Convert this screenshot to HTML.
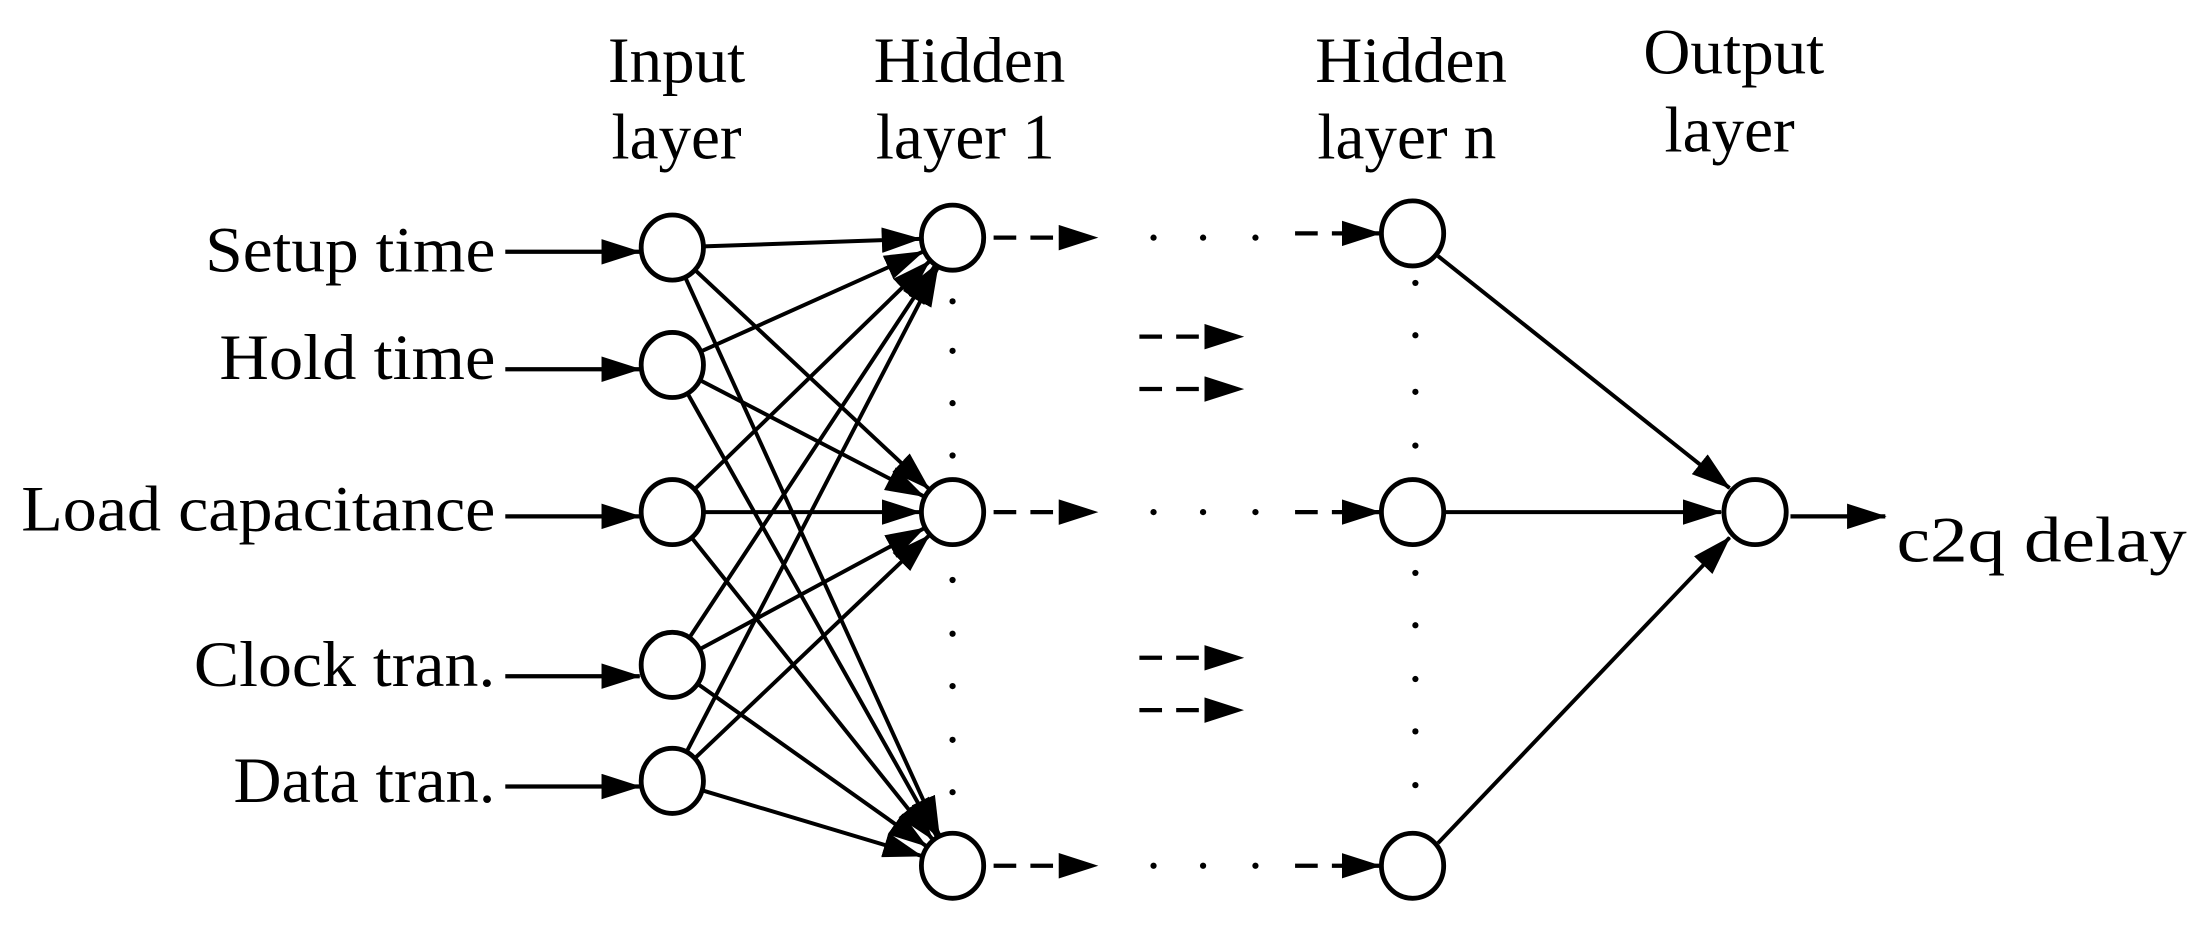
<!DOCTYPE html>
<html><head><style>html,body{margin:0;padding:0;background:#fff}svg{display:block}</style></head><body>
<svg width="2208" height="928" viewBox="0 0 1560 656" preserveAspectRatio="none" xmlns="http://www.w3.org/2000/svg">
<defs>
<marker id="a" markerUnits="userSpaceOnUse" markerWidth="28" markerHeight="18" refX="27" refY="9" orient="auto"><path d="M0,0 L28,9 L0,18 z" fill="#000"/></marker>
</defs>
<g font-family="Liberation Serif, serif" font-size="46" fill="#000">
<text x="350" y="192" text-anchor="end" textLength="205" lengthAdjust="spacingAndGlyphs">Setup time</text>
<text x="350" y="268" text-anchor="end" textLength="195" lengthAdjust="spacingAndGlyphs">Hold time</text>
<text x="350" y="375" text-anchor="end" textLength="335" lengthAdjust="spacingAndGlyphs">Load capacitance</text>
<text x="350" y="485" text-anchor="end" textLength="213" lengthAdjust="spacingAndGlyphs">Clock tran.</text>
<text x="350" y="567" text-anchor="end" textLength="185" lengthAdjust="spacingAndGlyphs">Data tran.</text>
<text x="478" y="58" text-anchor="middle">Input</text>
<text x="478" y="112" text-anchor="middle">layer</text>
<text x="685" y="58" text-anchor="middle">Hidden</text>
<text x="682" y="112" text-anchor="middle">layer 1</text>
<text x="997" y="58" text-anchor="middle">Hidden</text>
<text x="994" y="112" text-anchor="middle">layer n</text>
<text x="1225" y="52" text-anchor="middle">Output</text>
<text x="1222" y="107" text-anchor="middle">layer</text>
<text x="1340" y="397" textLength="205" lengthAdjust="spacingAndGlyphs">c2q delay</text>
</g>
<g stroke="#000" stroke-width="3" fill="none" marker-end="url(#a)">
<line x1="357" y1="178" x2="452" y2="178"/>
<line x1="357" y1="261" x2="452" y2="261"/>
<line x1="357" y1="365" x2="452" y2="365"/>
<line x1="357" y1="478" x2="452" y2="478"/>
<line x1="357" y1="556" x2="452" y2="556"/>
<line x1="1265" y1="365" x2="1332" y2="365"/>
</g>
<g stroke="#000" stroke-width="2.8" fill="none" marker-end="url(#a)" id="e"></g>
<g fill="none" stroke="#000" stroke-width="3.4">
<ellipse cx="475" cy="175" rx="22" ry="23"/>
<ellipse cx="475" cy="258" rx="22" ry="23"/>
<ellipse cx="475" cy="362" rx="22" ry="23"/>
<ellipse cx="475" cy="470" rx="22" ry="23"/>
<ellipse cx="475" cy="552" rx="22" ry="23"/>
<ellipse cx="673" cy="168" rx="22" ry="23"/>
<ellipse cx="673" cy="362" rx="22" ry="23"/>
<ellipse cx="673" cy="612" rx="22" ry="23"/>
<ellipse cx="998" cy="165" rx="22" ry="23"/>
<ellipse cx="998" cy="362" rx="22" ry="23"/>
<ellipse cx="998" cy="612" rx="22" ry="23"/>
<ellipse cx="1240" cy="362" rx="22" ry="23"/>
</g>
<g stroke="#000" stroke-width="3" fill="none" stroke-dasharray="16,10" marker-end="url(#a)">
<line x1="702" y1="168" x2="775" y2="168"/>
<line x1="702" y1="362" x2="775" y2="362"/>
<line x1="702" y1="612" x2="775" y2="612"/>
<line x1="915" y1="165" x2="975" y2="165"/>
<line x1="915" y1="362" x2="975" y2="362"/>
<line x1="915" y1="612" x2="975" y2="612"/>
<line x1="805" y1="238" x2="878" y2="238"/>
<line x1="805" y1="275" x2="878" y2="275"/>
<line x1="805" y1="465" x2="878" y2="465"/>
<line x1="805" y1="502" x2="878" y2="502"/>
</g>
<g fill="#000">
<circle cx="815" cy="168" r="2.2"/><circle cx="850" cy="168" r="2.2"/><circle cx="887" cy="168" r="2.2"/>
<circle cx="815" cy="362" r="2.2"/><circle cx="850" cy="362" r="2.2"/><circle cx="887" cy="362" r="2.2"/>
<circle cx="815" cy="612" r="2.2"/><circle cx="850" cy="612" r="2.2"/><circle cx="887" cy="612" r="2.2"/>
<circle cx="673" cy="213" r="2.2"/><circle cx="673" cy="248" r="2.2"/><circle cx="673" cy="285" r="2.2"/><circle cx="673" cy="322" r="2.2"/>
<circle cx="673" cy="410" r="2.2"/><circle cx="673" cy="448" r="2.2"/><circle cx="673" cy="485" r="2.2"/><circle cx="673" cy="523" r="2.2"/><circle cx="673" cy="560" r="2.2"/>
<circle cx="1000" cy="200" r="2.2"/><circle cx="1000" cy="237" r="2.2"/><circle cx="1000" cy="277" r="2.2"/><circle cx="1000" cy="315" r="2.2"/>
<circle cx="1000" cy="405" r="2.2"/><circle cx="1000" cy="442" r="2.2"/><circle cx="1000" cy="480" r="2.2"/><circle cx="1000" cy="517" r="2.2"/><circle cx="1000" cy="555" r="2.2"/>
</g>
<g stroke="#000" stroke-width="2.8" fill="none" marker-end="url(#a)">
<line x1="1016" y1="181" x2="1222" y2="345"/>
<line x1="1021" y1="362" x2="1216" y2="362"/>
<line x1="1016" y1="596" x2="1222" y2="380"/>
</g>
<script>
var g=document.getElementById('e'),ins=[[475,175],[475,258],[475,362],[475,470],[475,552]],hs=[[673,168],[673,362],[673,612]];
ins.forEach(function(p){hs.forEach(function(h){var dx=h[0]-p[0],dy=h[1]-p[1],d=Math.sqrt(dx*dx+dy*dy),ux=dx/d,uy=dy/d;
var l=document.createElementNS('http://www.w3.org/2000/svg','line');
l.setAttribute('x1',p[0]+ux*22);l.setAttribute('y1',p[1]+uy*23);l.setAttribute('x2',h[0]-ux*23);l.setAttribute('y2',h[1]-uy*24);g.appendChild(l);});});
</script>
</svg>
</body></html>
